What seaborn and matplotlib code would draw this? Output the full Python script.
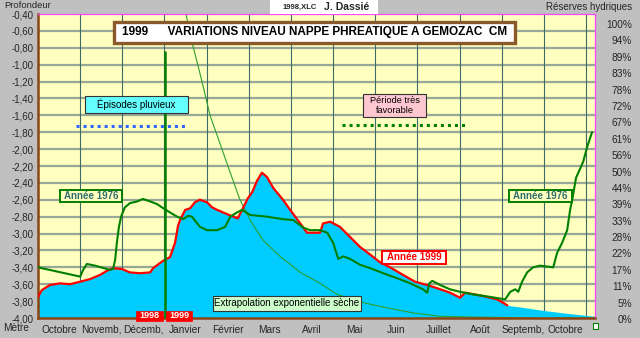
import numpy as np
import pandas as pd
import matplotlib
matplotlib.use("Agg")
import matplotlib.pyplot as plt
from matplotlib.patches import Rectangle
import seaborn as sns

# Time axis: months elapsed since 1 October 1998; depth in metres (negative)
mois_1999 = [0.00, 0.09, 0.28, 0.52, 0.76, 1.00, 1.23, 1.47, 1.64, 1.78, 1.99, 2.18,
             2.42, 2.66, 2.73, 2.89, 3.01, 3.13, 3.25, 3.32, 3.37, 3.49, 3.61, 3.72,
             3.84, 4.01, 4.13, 4.25, 4.39, 4.63, 4.74, 4.86, 4.98, 5.08, 5.20, 5.31,
             5.43, 5.58, 5.81, 5.98, 6.22, 6.38, 6.69, 6.76, 6.93, 7.16, 7.40, 7.64,
             7.88, 8.11, 8.35, 8.59, 8.94, 9.30, 9.54, 9.77, 10.01, 10.13, 10.56,
             10.89, 11.13]
niveau_1999 = [-3.75, -3.67, -3.61, -3.59, -3.60, -3.57, -3.54, -3.49, -3.44, -3.41,
               -3.42, -3.46, -3.47, -3.46, -3.41, -3.35, -3.31, -3.28, -3.11, -2.91,
               -2.84, -2.72, -2.70, -2.63, -2.60, -2.63, -2.69, -2.72, -2.75, -2.80,
               -2.82, -2.70, -2.58, -2.51, -2.37, -2.28, -2.33, -2.46, -2.60, -2.72,
               -2.88, -2.99, -2.99, -2.88, -2.86, -2.92, -3.04, -3.16, -3.25, -3.34,
               -3.40, -3.47, -3.57, -3.62, -3.66, -3.70, -3.76, -3.70, -3.74, -3.78,
               -3.85]

# Extrapolated dry-season recession after the last 1999 reading
mois_extrap = [11.44, 11.98, 12.46, 13.21]
niveau_extrap = [-3.87, -3.91, -3.94, -3.98]

mois_1976 = [0.00, 1.00, 1.07, 1.16, 1.35, 1.71, 1.78, 1.83, 1.87, 1.92, 1.97, 2.06,
             2.18, 2.35, 2.49, 2.66, 2.82, 2.97, 3.13, 3.30, 3.44, 3.56, 3.65, 3.84,
             4.01, 4.25, 4.44, 4.56, 4.72, 4.84, 5.03, 5.43, 5.81, 6.05, 6.29, 6.45,
             6.69, 6.86, 7.00, 7.12, 7.24, 7.40, 7.64, 7.88, 8.19, 8.52, 8.83, 9.13,
             9.23, 9.28, 9.35, 9.54, 9.77, 10.01, 10.32, 10.72, 11.08, 11.20, 11.32,
             11.39, 11.48, 11.60, 11.74, 11.91, 12.22, 12.31, 12.43, 12.55, 12.62,
             12.67, 12.76, 12.93, 13.02, 13.14]
niveau_1976 = [-3.40, -3.51, -3.43, -3.36, -3.38, -3.43, -3.42, -3.31, -3.11, -2.92,
               -2.80, -2.69, -2.64, -2.62, -2.59, -2.62, -2.65, -2.70, -2.75, -2.80,
               -2.83, -2.79, -2.80, -2.92, -2.96, -2.96, -2.92, -2.80, -2.75, -2.72,
               -2.78, -2.80, -2.83, -2.84, -2.93, -2.96, -2.96, -2.99, -3.11, -3.30,
               -3.27, -3.30, -3.37, -3.41, -3.47, -3.53, -3.59, -3.66, -3.70, -3.59,
               -3.56, -3.61, -3.66, -3.69, -3.72, -3.75, -3.78, -3.69, -3.66, -3.69,
               -3.57, -3.46, -3.40, -3.38, -3.40, -3.23, -3.11, -2.96, -2.72, -2.60,
               -2.34, -2.15, -1.98, -1.80]

# Exponential dry-weather recession curve
mois_expo = [3.51, 3.65, 3.87, 4.08, 4.37, 4.56, 4.79, 5.03, 5.34, 5.74, 6.22, 6.69,
             7.09, 7.64, 8.28, 8.90, 9.54, 10.49, 11.91, 13.21]
niveau_expo = [-0.40, -0.73, -1.16, -1.60, -2.01, -2.28, -2.60, -2.84, -3.08, -3.27,
               -3.46, -3.59, -3.72, -3.81, -3.88, -3.94, -3.98, -3.99, -4.00, -4.00]

# Rain episodes and very favourable period (month ranges, depth of the marker)
pluie_mois = [0.90, 3.53]
pluie_niveau = [-1.73, -1.73]
favorable_mois = [7.21, 10.18]
favorable_niveau = [-1.72, -1.72]

# Turn of the year
an_mois = [3.01, 3.01]
an_niveau = [-0.85, -4.00]

mois_labels = ["Octobre", "Novemb,", "Décemb,", "Janvier", "Février", "Mars", "Avril",
               "Mai", "Juin", "Juillet", "Août", "Septemb,", "Octobre"]
profondeur_ticks = [-4.0, -3.8, -3.6, -3.4, -3.2, -3.0, -2.8, -2.6, -2.4, -2.2, -2.0,
                    -1.8, -1.6, -1.4, -1.2, -1.0, -0.8, -0.6, -0.4]
reserves_labels = ["0%", "5%", "11%", "17%", "22%", "28%", "33%", "39%", "44%", "50%",
                   "56%", "61%", "67%", "72%", "78%", "83%", "89%", "94%", "100%"]

sns.set_style("white")
plt.rcParams["font.family"] = ["Liberation Sans", "DejaVu Sans"]

W, H = 640, 338
fig = plt.figure(figsize=(W / 100, H / 100), dpi=100)
fig.patch.set_facecolor("#c0c0c0")
ax = fig.add_axes([38 / W, 1 - 318 / H, 557 / W, 304 / H])
ax.set_facecolor("#ffffc0")

BROWN = "#8b4513"
GREEN = "#008000"

# grid
ax.set_xlim(0, 13.21)
ax.set_ylim(-4.0, -0.4)
ax.set_yticks(profondeur_ticks)
ax.set_yticklabels([f"{v:.2f}".replace(".", ",") for v in profondeur_ticks], fontsize=7)
ax.set_xticks(np.arange(0, 14, 1))
ax.set_xticklabels([])
ax.set_xticks(np.arange(0.5, 13, 1), minor=True)
ax.set_xticklabels(mois_labels, minor=True, fontsize=7.3)
ax.tick_params(axis="y", length=0, pad=3)
ax.tick_params(axis="x", which="both", length=3, width=1.2, color=BROWN, direction="out",
               pad=7.5)
for lbl in ax.get_xticklabels(minor=True):
    lbl.set_verticalalignment("baseline")
for v in profondeur_ticks[1:-1]:
    ax.axhline(v, color="#98a898", lw=1.6, zorder=0.5)
for m in range(1, 14):
    ax.axvline(m, color="#3f6b6b", lw=0.8, zorder=0.6)

for side in ("top", "right"):
    ax.spines[side].set_color("#ff44ff")
    ax.spines[side].set_linewidth(0.9)
for side in ("left", "bottom"):
    ax.spines[side].set_color(BROWN)
    ax.spines[side].set_linewidth(1.8)

# 1999 area (observed + extrapolated)
fill_x = mois_1999 + mois_extrap
fill_y = niveau_1999 + niveau_extrap
ax.fill_between(fill_x, fill_y, -4.0, color="#00ccff", lw=0, zorder=1)

sns.lineplot(x=mois_expo, y=niveau_expo, ax=ax, color="#2e9e2e", lw=0.8,
             sort=False, estimator=None, zorder=2)
sns.lineplot(x=mois_1999, y=niveau_1999, ax=ax, color="#ff0000", lw=1.6,
             sort=False, estimator=None, zorder=3)
sns.lineplot(x=mois_1976, y=niveau_1976, ax=ax, color=GREEN, lw=1.5,
             sort=False, estimator=None, zorder=4)
sns.lineplot(x=an_mois, y=an_niveau, ax=ax, color=GREEN, lw=1.8,
             sort=False, estimator=None, zorder=4)
sns.lineplot(x=pluie_mois, y=pluie_niveau, ax=ax, color="#3366ff", lw=2.2,
             linestyle=(0, (1, 1.3)), sort=False, estimator=None, zorder=4)
sns.lineplot(x=favorable_mois, y=favorable_niveau, ax=ax, color=GREEN, lw=2.2,
             linestyle=(0, (1, 1.3)), sort=False, estimator=None, zorder=4)
ax.set_xlabel("")
ax.set_ylabel("")


def boite(x0, x1, y0, y1, texte, fc, ec, tc="black", lw=1.0, fs=7, bold=False, ls=1.3):
    ax.add_patch(Rectangle((x0, y0), x1 - x0, y1 - y0, transform=ax.transAxes,
                           facecolor=fc, edgecolor=ec, lw=lw, zorder=6, clip_on=False))
    ax.text((x0 + x1) / 2, (y0 + y1) / 2, texte, transform=ax.transAxes, ha="center",
            va="center", color=tc, fontsize=fs, fontweight="bold" if bold else "normal",
            zorder=7, linespacing=ls)


def px(x, y):
    return (x - 38) / 557, (318 - y) / 304


def boite_px(x0, y0, x1, y1, *a, **k):
    ax0, ay1 = px(x0, y0)
    ax1, ay0 = px(x1, y1)
    boite(ax0, ax1, ay0, ay1, *a, **k)


boite_px(114, 22, 515, 43, "1999      VARIATIONS NIVEAU NAPPE PHREATIQUE A GEMOZAC  CM",
         "white", "#8b5a2b", lw=2.4, fs=8.5, bold=True)
boite_px(85, 96, 188, 113, "Épisodes pluvieux", "#66ffff", "#333333", lw=0.8, fs=7)
boite_px(363, 94, 426, 117, "Période très\nfavorable", "#ffc8d0", "#333333", lw=0.8,
         fs=6.6, ls=1.15)
boite_px(60, 190, 122, 202, "Année 1976", "#ffffc0", GREEN, tc="#2f6f6f", lw=1.4, fs=7, bold=True)
boite_px(509, 190, 572, 202, "Année 1976", "#ffffc0", GREEN, tc="#2f6f6f", lw=1.4, fs=7, bold=True)
boite_px(382, 251, 446, 264, "Année 1999", "white", "#ff0000", tc="#ff0000", lw=1.4, fs=7, bold=True)
boite_px(213, 296, 361, 311, "Extrapolation exponentielle sèche", "#ccffcc", "#333333",
         lw=0.8, fs=7)
boite_px(136, 311, 163, 321, "1998", "#ff0000", "#ff0000", tc="white", lw=0.5, fs=6.5, bold=True)
boite_px(166, 311, 192, 321, "1999", "#ff0000", "#ff0000", tc="white", lw=0.5, fs=6.5, bold=True)

# right-hand scale: water reserves
for i, lab in enumerate(reserves_labels):
    ypix = 320 - i * (295 / 18)
    fig.text(632 / W, 1 - ypix / H, lab, ha="right", va="center", fontsize=7.3)

# header and corner captions
fig.patches.append(Rectangle((270 / W, 1 - 14 / H), 108 / W, 14 / H, transform=fig.transFigure,
                             facecolor="white", edgecolor="none"))
fig.text(300 / W, 1 - 7 / H, "1998,XLC", ha="center", va="center", fontsize=5.5, fontweight="bold")
fig.text(347 / W, 1 - 7 / H, "J. Dassié", ha="center", va="center", fontsize=7.5, fontweight="bold")
fig.text(4 / W, 1 - 6 / H, "Profondeur", ha="left", va="center", fontsize=6.8)
fig.text(632 / W, 1 - 7 / H, "Réserves hydriques", ha="right", va="center", fontsize=7)
fig.text(3 / W, 1 - 328 / H, "Mètre", ha="left", va="center", fontsize=7.3)
fig.patches.append(Rectangle((593 / W, 1 - 329 / H), 5 / W, 6 / H, transform=fig.transFigure,
                             facecolor="white", edgecolor=GREEN, lw=0.8))

fig.savefig("out.png", dpi=100, facecolor=fig.get_facecolor())
